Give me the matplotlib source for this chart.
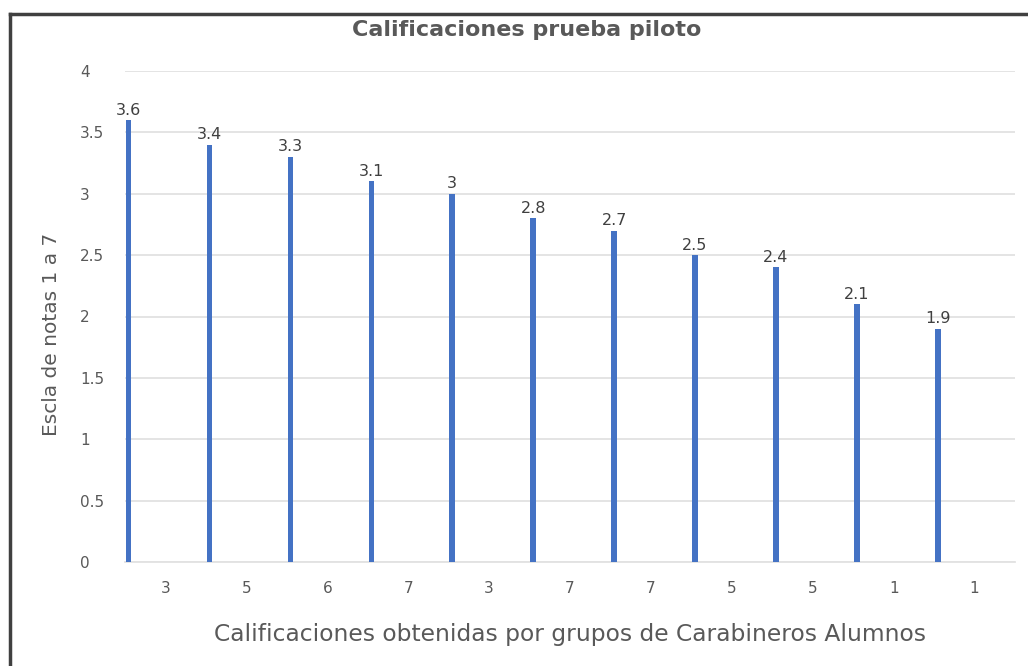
import matplotlib
matplotlib.use("Agg")
import matplotlib.pyplot as plt
from matplotlib.lines import Line2D
import numpy as np

categories = ["3", "5", "6", "7", "3", "7", "7", "5", "5", "1", "1"]
values = [3.6, 3.4, 3.3, 3.1, 3.0, 2.8, 2.7, 2.5, 2.4, 2.1, 1.9]
value_labels = ["3.6", "3.4", "3.3", "3.1", "3", "2.8", "2.7", "2.5", "2.4", "2.1", "1.9"]
yticks = [0, 0.5, 1, 1.5, 2, 2.5, 3, 3.5, 4]
ytick_labels = ["0", "0.5", "1", "1.5", "2", "2.5", "3", "3.5", "4"]

plt.rcParams['font.family'] = ['DejaVu Sans']
W, H = 1028, 666
fig = plt.figure(figsize=(W / 100, H / 100), dpi=100)
ax = fig.add_axes([125 / W, 1 - 562 / H, 890 / W, (562 - 71) / H])

x = np.arange(len(categories))
bar_x = x - 0.5 + 0.045
ax.bar(bar_x, values, width=0.07, color="#4472C4", zorder=3)
for bx, v, lab in zip(bar_x, values, value_labels):
    ax.text(bx, v + 0.02, lab, ha="center", va="bottom", fontsize=11.5, color="#404040")

ax.set_xlim(-0.5, len(categories) - 0.5)
ax.set_ylim(0, 4)
ax.set_yticks(yticks)
ax.set_yticklabels(ytick_labels)
ax.set_xticks(x)
ax.set_xticklabels(categories)
ax.tick_params(axis="both", length=0, labelsize=11, colors="#595959")
ax.tick_params(axis="y", pad=45 * 0.72)
for t in ax.get_yticklabels():
    t.set_horizontalalignment("left")
ax.tick_params(axis="x", pad=14)
ax.grid(axis="y", color="#e2e2e2", linewidth=1.3, zorder=0)
for s in ["top", "right", "left"]:
    ax.spines[s].set_visible(False)
ax.spines["bottom"].set_color("#e2e2e2")
ax.spines["bottom"].set_linewidth(1.3)

fig.text(570 / W, 1 - 634 / H, "Calificaciones obtenidas por grupos de Carabineros Alumnos",
         ha="center", va="center", fontsize=16.8, color="#595959")
fig.text(52 / W, 1 - 334 / H, "Escla de notas 1 a 7", rotation=90,
         ha="center", va="center", fontsize=14.5, color="#595959")
fig.text(527 / W, 1 - 30 / H, "Calificaciones prueba piloto", ha="center", va="center",
         fontsize=16, fontweight="bold", color="#595959")

fig.add_artist(Line2D([10 / W, 10 / W], [0, 1 - 14 / H], transform=fig.transFigure,
                      color="#404040", linewidth=2.5))
fig.add_artist(Line2D([10 / W, 1], [1 - 14 / H, 1 - 14 / H], transform=fig.transFigure,
                      color="#404040", linewidth=2.5))

fig.savefig("out.png", dpi=100)
